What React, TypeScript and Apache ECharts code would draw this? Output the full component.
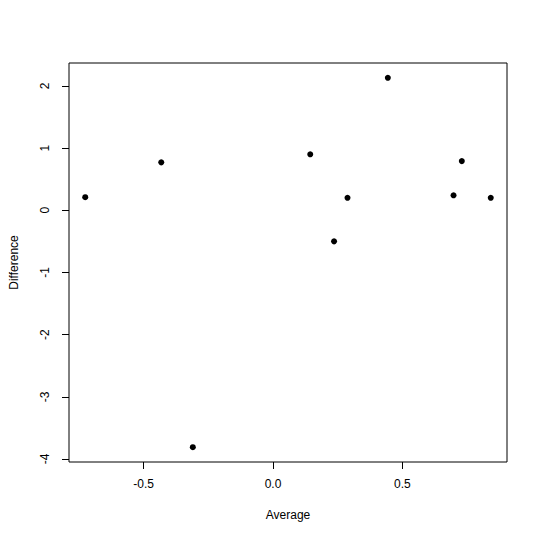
import React, { useEffect, useRef } from 'react'
import * as echarts from 'echarts'

// values
const average = [-0.726, -0.432, -0.31, 0.144, 0.236, 0.288, 0.444, 0.698, 0.73, 0.842]
const difference = [0.21, 0.77, -3.81, 0.9, -0.5, 0.2, 2.13, 0.24, 0.79, 0.2]
const xTicks = [-0.5, 0, 0.5]
const yTicks = [-4, -3, -2, -1, 0, 1, 2]

// R style axis range: data range extended by 4% on each side
function padRange(vals: number[]) {
  const lo = Math.min(...vals)
  const hi = Math.max(...vals)
  const pad = (hi - lo) * 0.04
  return [lo - pad, hi + pad]
}

export default function App() {
  const chartRef = useRef<HTMLDivElement>(null)

  useEffect(() => {
    const chart = echarts.init(chartRef.current, null, { renderer: 'svg' })
    const [xMin, xMax] = padRange(average)
    const [yMin, yMax] = padRange(difference)
    const font = 'Liberation Sans, Arial, sans-serif'

    chart.setOption({
      animation: false,
      backgroundColor: '#fff',
      grid: {
        left: 63,
        top: 63,
        right: 33,
        bottom: 78,
        show: true,
        borderColor: '#000',
        borderWidth: 1,
        backgroundColor: 'transparent',
      },
      xAxis: {
        type: 'value',
        min: xMin,
        max: xMax,
        name: 'Average',
        nameLocation: 'middle',
        nameGap: 47,
        nameTextStyle: { color: '#000', fontSize: 12, fontFamily: font },
        axisLine: { show: false, onZero: false },
        splitLine: { show: false },
        axisTick: {
          show: true,
          inside: false,
          length: 7,
          customValues: xTicks,
          lineStyle: { color: '#000' },
        },
        axisLabel: {
          customValues: xTicks,
          margin: 16,
          color: '#000',
          fontSize: 12,
          fontFamily: font,
          formatter: (v: number) => v.toFixed(1),
        },
      },
      yAxis: {
        type: 'value',
        min: yMin,
        max: yMax,
        name: 'Difference',
        nameLocation: 'middle',
        nameRotate: 90,
        nameGap: 49,
        nameTextStyle: { color: '#000', fontSize: 12, fontFamily: font },
        axisLine: { show: false, onZero: false },
        splitLine: { show: false },
        axisTick: {
          show: true,
          inside: false,
          length: 7,
          customValues: yTicks,
          lineStyle: { color: '#000' },
        },
        axisLabel: {
          customValues: yTicks,
          rotate: 90,
          margin: 18,
          color: '#000',
          fontSize: 12,
          fontFamily: font,
        },
      },
      series: [
        {
          type: 'scatter',
          data: average.map((x, i) => [x, difference[i]]),
          symbol: 'circle',
          symbolSize: 6,
          itemStyle: { color: '#000', opacity: 1 },
        },
      ],
    })

    return () => {
      chart.dispose()
    }
  }, [])

  return (
    <div
      ref={chartRef}
      style={{ position: 'absolute', left: 0, top: 0, width: '540px', height: '540px' }}
    ></div>
  )
}
